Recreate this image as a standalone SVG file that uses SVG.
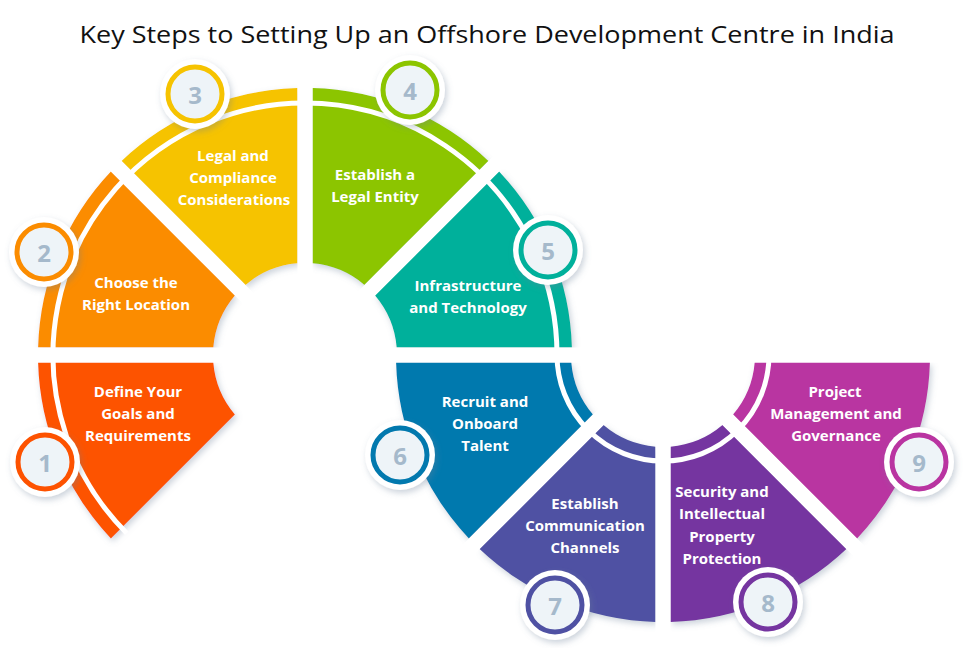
<svg xmlns="http://www.w3.org/2000/svg" width="973" height="648" viewBox="0 0 973 648">
<defs>
<filter id="sh" x="-20%" y="-20%" width="140%" height="140%"><feDropShadow dx="2" dy="3" stdDeviation="3" flood-color="#6a7f99" flood-opacity="0.35"/></filter>
<style>
.t{font-family:"Open Sans","Liberation Sans",sans-serif;font-weight:700;font-size:15px;fill:#fff;text-anchor:middle;dominant-baseline:central}
.n{font-family:"Open Sans","Liberation Sans",sans-serif;font-weight:700;font-size:24px;fill:#a5b9cb;text-anchor:middle;dominant-baseline:central}
.o{fill:#fff;filter:url(#sh)}
.r{fill:#eef4f8;stroke-width:5}
.s{fill:none;stroke:#fff;stroke-width:5}
</style>
</defs>
<rect width="973" height="648" fill="#fff"/>
<text x="487" y="33" font-family="'Open Sans','Liberation Sans',sans-serif" font-size="24" fill="#111" text-anchor="middle" dominant-baseline="central" textLength="815" lengthAdjust="spacingAndGlyphs">Key Steps to Setting Up an Offshore Development Centre in India</text>
<g id="segments" filter="url(#sh)">
<path id="seg1" fill="#fd5200" d="M38.1,362.5 A267,267 0 0 0 110.9,538.4 L234.9,414.5 A92,92 0 0 1 213.3,362.5 Z"/>
<path id="seg2" fill="#fb8c00" d="M110.9,171.6 A267,267 0 0 0 38.1,347.5 L213.3,347.5 A92,92 0 0 1 234.9,295.5 Z"/>
<path id="seg3" fill="#f6c300" d="M297.5,88.1 A267,267 0 0 0 121.6,160.9 L245.5,284.9 A92,92 0 0 1 297.5,263.3 Z"/>
<path id="seg4" fill="#8cc500" d="M488.4,160.9 A267,267 0 0 0 312.5,88.1 L312.5,263.3 A92,92 0 0 1 364.5,284.9 Z"/>
<path id="seg5" fill="#00b09b" d="M571.9,347.5 A267,267 0 0 0 499.1,171.6 L375.1,295.5 A92,92 0 0 1 396.7,347.5 Z"/>
<path id="seg6" fill="#0279ae" d="M396.1,362.5 A267,267 0 0 0 468.9,538.4 L592.9,414.5 A92,92 0 0 1 571.3,362.5 Z"/>
<path id="seg7" fill="#4f51a3" d="M479.6,549.1 A267,267 0 0 0 655.5,621.9 L655.5,446.7 A92,92 0 0 1 603.5,425.1 Z"/>
<path id="seg8" fill="#7535a0" d="M670.5,621.9 A267,267 0 0 0 846.4,549.1 L722.5,425.1 A92,92 0 0 1 670.5,446.7 Z"/>
<path id="seg9" fill="#b934a1" d="M857.1,538.4 A267,267 0 0 0 929.9,362.5 L754.7,362.5 A92,92 0 0 1 733.1,414.5 Z"/>
</g>
<g id="stripes">
<path class="s" d="M126.8,533.2 A252,252 0 1 1 557,355"/>
<path class="s" d="M557,355 A106,106 0 0 0 769,355"/>
<g stroke="#fff" stroke-width="15"><line x1="305" y1="355" x2="15" y2="355"/><line x1="305" y1="355" x2="80" y2="130"/><line x1="305" y1="355" x2="305" y2="70"/><line x1="305" y1="355" x2="530" y2="130"/><line x1="663" y1="355" x2="373" y2="355"/><line x1="663" y1="355" x2="953" y2="355"/><line x1="663" y1="355" x2="663" y2="640"/><line x1="663" y1="355" x2="438" y2="580"/><line x1="663" y1="355" x2="888" y2="580"/></g>
</g>
<g id="labels">
<text class="t" x="138" y="391">Define Your</text><text class="t" x="138" y="413">Goals and</text><text class="t" x="138" y="435">Requirements</text>
<text class="t" x="136" y="282">Choose the</text><text class="t" x="136" y="304">Right Location</text>
<text class="t" x="233" y="155">Legal and</text><text class="t" x="233" y="177">Compliance</text><text class="t" x="234" y="199">Considerations</text>
<text class="t" x="375" y="174">Establish a</text><text class="t" x="375" y="196">Legal Entity</text>
<text class="t" x="468" y="285">Infrastructure</text><text class="t" x="468" y="307">and Technology</text>
<text class="t" x="485" y="401">Recruit and</text><text class="t" x="485" y="423">Onboard</text><text class="t" x="485" y="445">Talent</text>
<text class="t" x="585" y="503">Establish</text><text class="t" x="585" y="525">Communication</text><text class="t" x="585" y="547">Channels</text>
<text class="t" x="722" y="491">Security and</text><text class="t" x="722" y="513">Intellectual</text><text class="t" x="722" y="536">Property</text><text class="t" x="722" y="558">Protection</text>
<text class="t" x="835" y="391">Project</text><text class="t" x="836" y="413">Management and</text><text class="t" x="836" y="435">Governance</text>
</g>
<g id="badge1"><circle class="o" cx="45" cy="462" r="35"/><circle class="r" cx="45" cy="462" r="27" stroke="#fd5200"/><text class="n" x="45" y="462">1</text></g>
<g id="badge2"><circle class="o" cx="44" cy="252" r="35"/><circle class="r" cx="44" cy="252" r="27" stroke="#fb8c00"/><text class="n" x="44" y="252">2</text></g>
<g id="badge3"><circle class="o" cx="195" cy="94" r="35"/><circle class="r" cx="195" cy="94" r="27" stroke="#f6c300"/><text class="n" x="195" y="94">3</text></g>
<g id="badge4"><circle class="o" cx="410" cy="90" r="35"/><circle class="r" cx="410" cy="90" r="27" stroke="#8cc500"/><text class="n" x="410" y="90">4</text></g>
<g id="badge5"><circle class="o" cx="548" cy="250" r="35"/><circle class="r" cx="548" cy="250" r="27" stroke="#00b09b"/><text class="n" x="548" y="250">5</text></g>
<g id="badge6"><circle class="o" cx="400" cy="455" r="35"/><circle class="r" cx="400" cy="455" r="27" stroke="#0279ae"/><text class="n" x="400" y="455">6</text></g>
<g id="badge7"><circle class="o" cx="555" cy="605" r="35"/><circle class="r" cx="555" cy="605" r="27" stroke="#4f51a3"/><text class="n" x="555" y="605">7</text></g>
<g id="badge8"><circle class="o" cx="768" cy="602" r="35"/><circle class="r" cx="768" cy="602" r="27" stroke="#7535a0"/><text class="n" x="768" y="602">8</text></g>
<g id="badge9"><circle class="o" cx="919" cy="462" r="35"/><circle class="r" cx="919" cy="462" r="27" stroke="#b934a1"/><text class="n" x="919" y="462">9</text></g>
</svg>
